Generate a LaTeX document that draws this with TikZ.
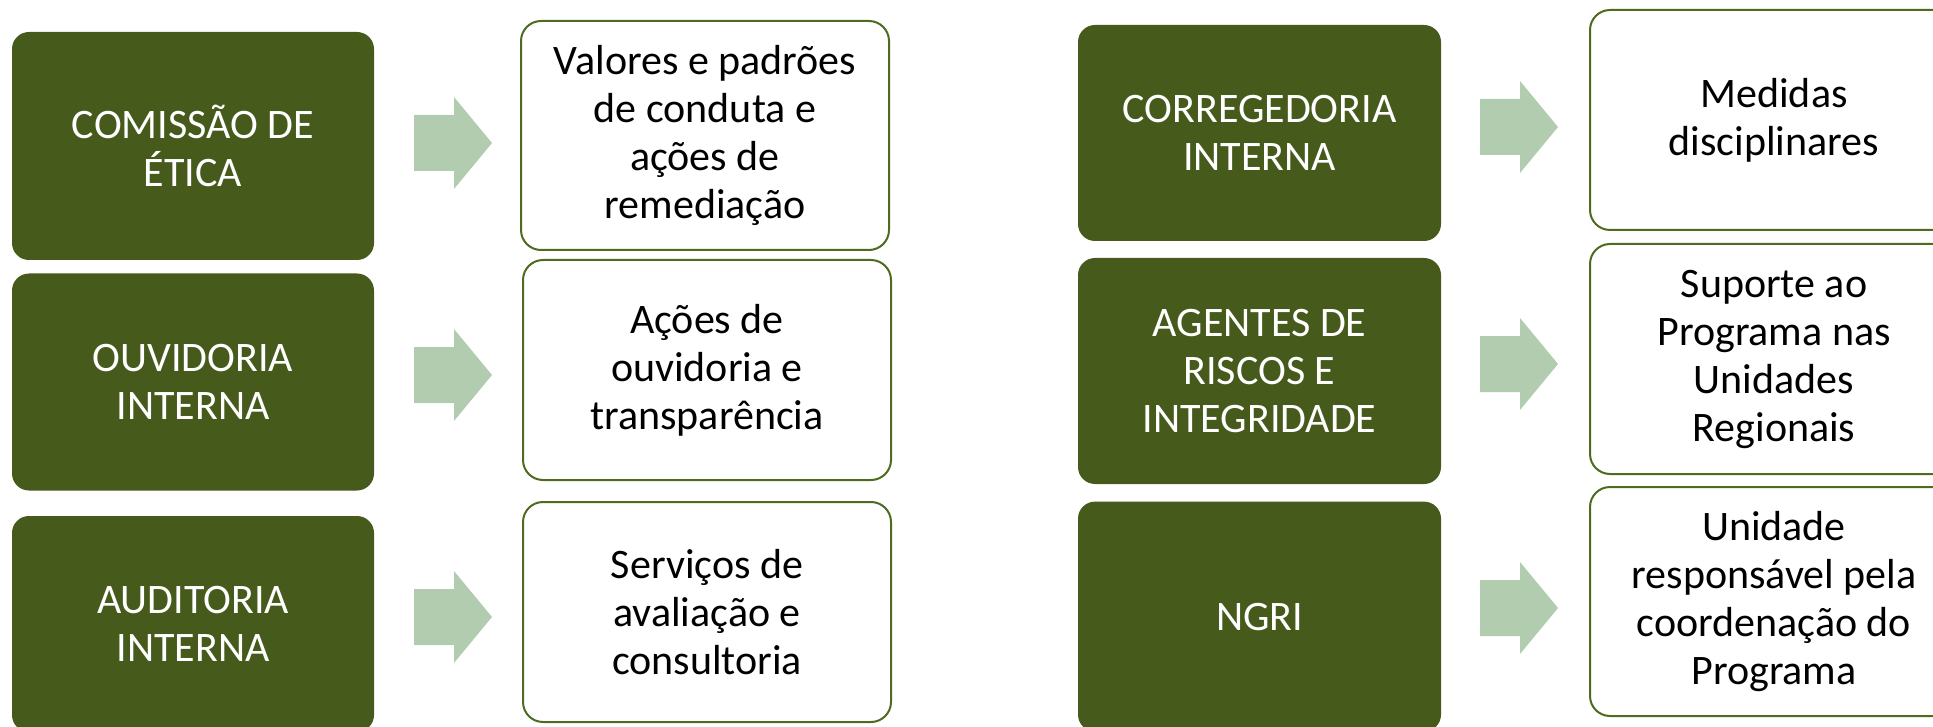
\documentclass[tikz,border=0pt]{standalone}
\usepackage{fontspec}
\setmainfont{Carlito}
\definecolor{darkgreen}{HTML}{465A1C}
\definecolor{bordergreen}{HTML}{4E6B20}
\definecolor{arrowgreen}{HTML}{B2CCB0}
\begin{document}
\begin{tikzpicture}[x=0.5pt,y=-0.5pt,
  dark/.style={fill=darkgreen, draw=none, rounded corners=8.5pt, inner sep=0pt,
    text=white, align=center, font=\fontsize{21pt}{24pt}\selectfont},
  light/.style={fill=white, draw=bordergreen, line width=1pt, rounded corners=10pt, inner sep=0pt,
    text=black, align=center, font=\fontsize{21pt}{24pt}\selectfont},
  blockarrow/.pic={\fill[arrowgreen] (-40,-28) -- (0,-28) -- (0,-46) -- (38,0) -- (0,46) -- (0,28) -- (-40,28) -- cycle;}
]
\useasboundingbox (0,0) rectangle (1933,727);
\clip (0,0) rectangle (1933,727);

% left column dark boxes
\node[dark, minimum width=181pt, minimum height=114pt] (c1) at (193,146) {COMISSÃO DE\\ÉTICA};
\node[dark, minimum width=181pt, minimum height=108.5pt] (c2) at (193,382) {OUVIDORIA\\INTERNA};
\node[dark, minimum width=181pt, minimum height=108pt] (c3) at (193,624) {AUDITORIA\\INTERNA};

% left column white boxes
\node[light, minimum width=184pt, minimum height=114.5pt] (w1) at (705,135.5) {Valores e padrões\\de conduta e\\ações de\\remediação};
\node[light, minimum width=184pt, minimum height=110pt] (w2) at (707,370) {Ações de\\ouvidoria e\\transparência};
\node[light, minimum width=184pt, minimum height=110pt] (w3) at (707,612) {Serviços de\\avaliação e\\consultoria};

% right column dark boxes
\node[dark, minimum width=181.5pt, minimum height=108pt] (d1) at (1259.5,133) {CORREGEDORIA\\INTERNA};
\node[dark, minimum width=181.5pt, minimum height=113pt] (d2) at (1259.5,371) {AGENTES DE\\RISCOS E\\INTEGRIDADE};
\node[dark, minimum width=181.5pt, minimum height=115pt] (d3) at (1259.5,616.6) {NGRI};

% right column white boxes
\node[light, minimum width=184pt, minimum height=110pt] (v1) at (1774,120) {Medidas\\disciplinares};
\node[light, minimum width=184pt, minimum height=115pt] (v2) at (1774,359) {Suporte ao\\Programa nas\\Unidades\\Regionais};
\node[light, minimum width=184pt, minimum height=114.5pt] (v3) at (1774,601.5) {Unidade\\responsável pela\\coordenação do\\Programa};

% block arrows
\coordinate (a1) at (454,143);
\coordinate (a2) at (454,375);
\coordinate (a3) at (454,617);
\coordinate (b1) at (1520,127);
\coordinate (b2) at (1520,364);
\coordinate (b3) at (1520,608);
\foreach \p in {a1,a2,a3,b1,b2,b3} { \pic at (\p) {blockarrow}; }
\end{tikzpicture}
\end{document}
